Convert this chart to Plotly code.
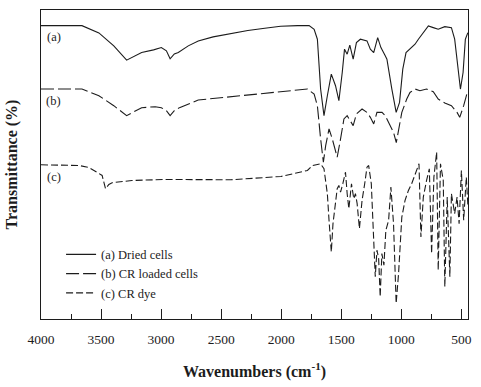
import plotly.graph_objects as go

# ---- data (wavenumber cm^-1, transmittance in arbitrary units) ----
wn_a = [4000, 3659, 3518, 3394, 3287, 3229, 3162, 3063, 2998, 2956, 2925, 2890, 2857, 2774,
        2691, 2567, 2418, 2278, 2137, 2005, 1864, 1768, 1726, 1699, 1672, 1644, 1616, 1583,
        1548, 1520, 1492, 1473, 1451, 1429, 1401, 1374, 1341, 1286, 1258, 1230, 1197, 1170,
        1134, 1120, 1079, 1043, 1015, 988, 961, 928, 886, 858, 817, 775, 734, 693, 638, 583,
        556, 527, 508, 486, 467, 446]
t_a = [294.3, 294.3, 287, 274, 259.7, 263, 267.3, 270, 272.3, 269, 261, 266, 267.3, 274,
       279, 283, 286.3, 289.5, 291.7, 293.7, 294.3, 294.3, 290.7, 280.7, 230.7, 204, 224, 245.7,
       234, 219, 247.3, 270.7, 265.7, 274.7, 260.7, 277.3, 280.7, 279, 270.7, 267.3, 282.3, 272.3,
       264, 260.7, 230.7, 207.3, 217.3, 250.7, 267.3, 270.7, 275.7, 280.7, 287.3, 294, 292.3, 290.7,
       293.3, 292.3, 280.7, 247.3, 230.7, 247.3, 280.7, 287.3]

wn_b = [4000, 3659, 3518, 3394, 3287, 3229, 3162, 3049, 2998, 2956, 2925, 2890, 2842, 2691,
        2418, 2137, 1864, 1782, 1726, 1699, 1672, 1649, 1630, 1602, 1575, 1534, 1506, 1478,
        1451, 1429, 1401, 1374, 1327, 1286, 1258, 1230, 1203, 1161, 1134, 1065, 1042, 996,
        955, 928, 886, 845, 790, 734, 693, 638, 583, 536, 514, 481, 451]
t_b = [230.7, 230.7, 224, 214, 204, 208, 212, 213, 212, 209, 204, 209, 212.3, 219.7,
       223, 226.3, 229, 230.7, 225.7, 214, 180.7, 157.3, 174, 190.7, 180.7, 162.3, 180.7, 200.7,
       204, 199, 194, 205.7, 210.7, 207.3, 202.3, 195.7, 207.3, 207.3, 204, 187.3, 177, 207.3,
       220.7, 227.3, 230.7, 229, 230.7, 228, 220.7, 216.7, 214, 207.3, 202.3, 214, 227.3]

wn_c = [4000, 3683, 3601, 3518, 3491, 3463, 3435, 3408, 3243, 2967, 2418, 2002, 1782, 1740,
        1672, 1644, 1616, 1602, 1583, 1569, 1553, 1534, 1520, 1506, 1487, 1465, 1451, 1437,
        1415, 1396, 1382, 1368, 1349, 1327, 1305, 1286, 1272, 1250, 1230, 1217, 1203, 1189,
        1176, 1162, 1145, 1129, 1106, 1087, 1065, 1043, 1023, 996, 969, 941, 914, 886, 853,
        837, 817, 790, 767, 748, 729, 706, 693, 674, 651, 638, 618, 596, 583, 556, 536, 519,
        500, 481, 459, 446]
t_c = [154.7, 154, 152, 146.3, 144, 130.7, 135, 136.7, 139, 140, 139.7, 143, 149, 154,
       155.7, 150.7, 125.7, 99, 67.3, 95.7, 112.3, 130.7, 134, 127.3, 135.7, 147.3, 125.7, 110.7,
       135.7, 120.7, 125.7, 115.7, 90.7, 119, 135.7, 152.3, 154, 135.7, 79, 42.3, 69, 60.7,
       22.3, 65.7, 54, 89, 99, 132.3, 95.7, 15.7, 45.7, 102.3, 119, 129, 135.7, 145.7, 155.7,
       82.3, 122.3, 139, 150.7, 65.7, 142.3, 167.3, 49, 155.7, 139, 32.3, 122.3, 42.3, 125.7,
       105.7, 122.3, 95.7, 149, 99, 142.3, 114]

names = ["(a) Dried cells", "(b) CR loaded cells", "(c) CR dye"]
labels = ["(a)", "(b)", "(c)"]
x_ticks = [4000, 3500, 3000, 2500, 2000, 1500, 1000, 500]

SERIF = "Liberation Serif, Times New Roman, Times, serif"
INK = "#1c1c1c"

fig = go.Figure()
fig.add_trace(go.Scatter(x=wn_a, y=t_a, mode="lines", name=names[0],
                         line=dict(color=INK, width=1.1, dash="solid")))
fig.add_trace(go.Scatter(x=wn_b, y=t_b, mode="lines", name=names[1],
                         line=dict(color=INK, width=1.1, dash="13px,4px")))
fig.add_trace(go.Scatter(x=wn_c, y=t_c, mode="lines", name=names[2],
                         line=dict(color=INK, width=1.1, dash="7px,3px")))

for lab, yv in zip(labels, [283, 219, 142.3]):
    fig.add_annotation(x=3895, y=yv, text=lab, showarrow=False,
                       font=dict(family=SERIF, size=12.5, color=INK))

# axis titles
fig.add_annotation(x=0, y=0.5, xref="paper", yref="paper", xshift=-30,
                   xanchor="center", yanchor="middle",
                   text="<b>Transmittance (%)</b>", textangle=-90, showarrow=False,
                   font=dict(family=SERIF, size=16, color=INK))
fig.add_annotation(x=0.5, y=0, xref="paper", yref="paper", yshift=-51,
                   xanchor="center", yanchor="middle",
                   text="<b>Wavenumbers (cm<sup>-1</sup>)</b>", showarrow=False,
                   font=dict(family=SERIF, size=16, color=INK))

fig.update_layout(
    width=481, height=387,
    margin=dict(l=41, r=9, t=9, b=68),
    paper_bgcolor="white", plot_bgcolor="white",
    font=dict(family=SERIF, color=INK),
    showlegend=True,
    legend=dict(x=0.047, y=0.2566, xanchor="left", yanchor="top",
                bgcolor="rgba(0,0,0,0)", borderwidth=0, tracegroupgap=0,
                font=dict(family=SERIF, size=12.5, color=INK)),
)
fig.update_xaxes(range=[4000, 445], tickvals=x_ticks, ticks="inside", ticklen=10,
                 tickwidth=1.2, tickcolor=INK, showline=True, linecolor=INK, linewidth=1.4,
                 mirror=True, showgrid=False, zeroline=False,
                 tickfont=dict(family=SERIF, size=13.5, color=INK),
                 ticklabelstandoff=8,
                 minor=dict(dtick=250, tick0=0, ticks="inside", ticklen=5, tickwidth=1,
                            tickcolor=INK, showgrid=False))
fig.update_yaxes(range=[0, 310], showticklabels=False, ticks="", showline=True,
                 linecolor=INK, linewidth=1.4, mirror=True, showgrid=False, zeroline=False)

# the page body has a default 8px margin; remove it so the figure fills the window
fig.write_html("out.html", config={"displayModeBar": False},
               post_script="document.body.style.margin='0';")
